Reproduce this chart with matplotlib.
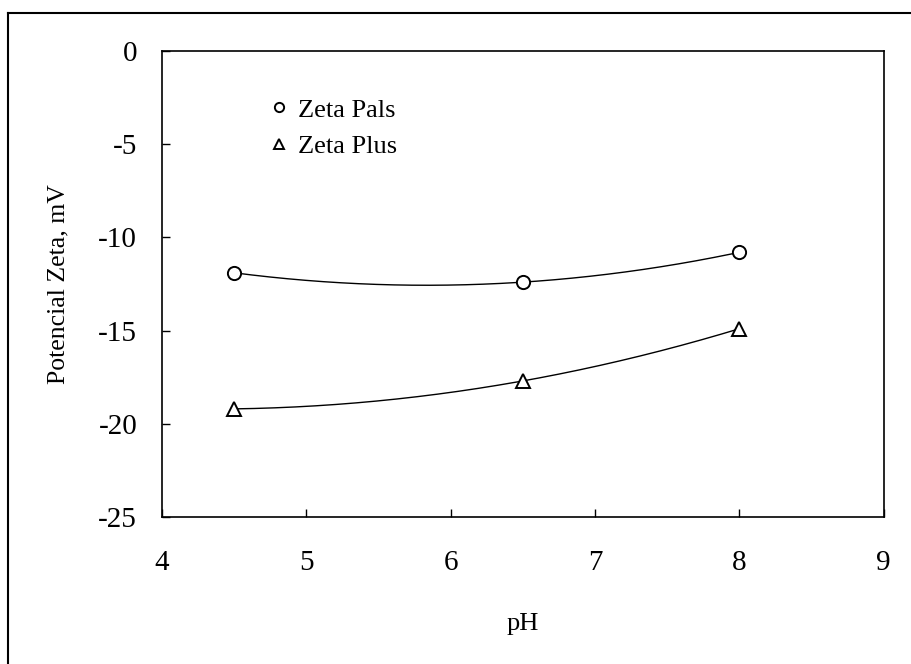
import matplotlib
matplotlib.use("Agg")
import matplotlib.pyplot as plt
from matplotlib.lines import Line2D
import numpy as np

# data
ph = [4.5, 6.5, 8.0]
zeta_pals = [-11.9, -12.4, -10.8]
zeta_plus = [-19.2, -17.7, -14.9]

xticks = [4, 5, 6, 7, 8, 9]
yticks = [0, -5, -10, -15, -20, -25]

plt.rcParams['font.family'] = ['Liberation Serif', 'DejaVu Serif']
plt.rcParams['axes.unicode_minus'] = False

fig = plt.figure(figsize=(9.11, 6.64), dpi=100)
ax = fig.add_axes([0.178, 0.2214, 0.792, 0.7018])

# outer frame (only left and top edges visible in the scan)
fig.add_artist(Line2D([8 / 911, 8 / 911], [0, 1 - 13 / 664], transform=fig.transFigure,
                      color='black', lw=1.5))
fig.add_artist(Line2D([8 / 911, 1], [1 - 13 / 664, 1 - 13 / 664], transform=fig.transFigure,
                      color='black', lw=1.5))

# quadratic trendlines through the points
xs = np.linspace(min(ph), max(ph), 200)
for ys in (zeta_pals, zeta_plus):
    coef = np.polyfit(ph, ys, 2)
    ax.plot(xs, np.polyval(coef, xs), color='black', lw=1.0)

ax.plot(ph, zeta_pals, linestyle='none', marker='o', ms=9.5, mfc='white',
        mec='black', mew=1.4, label='Zeta Pals')
ax.plot(ph, zeta_plus, linestyle='none', marker='^', ms=9.5, mfc='white',
        mec='black', mew=1.4, label='Zeta Plus')

ax.set_xlim(4, 9)
ax.set_ylim(-25, 0)
ax.set_xticks(xticks)
ax.set_yticks(yticks)
ax.tick_params(direction='in', length=6, width=1, labelsize=21)
ax.tick_params(axis='x', pad=24)
ax.tick_params(axis='y', pad=18)
for s in ax.spines.values():
    s.set_linewidth(1.2)

ax.set_xlabel('pH', fontsize=19)
ax.set_ylabel('Potencial Zeta, mV', fontsize=18.5)
ax.xaxis.set_label_coords(0.5, -0.205)
ax.yaxis.set_label_coords(-0.128, 0.5)

ax.legend(loc='upper left', bbox_to_anchor=(0.12, 0.95), frameon=False,
          fontsize=19, markerscale=0.7, handlelength=0.5, handletextpad=0.45,
          labelspacing=0.5)

fig.savefig('out.png', dpi=100)
